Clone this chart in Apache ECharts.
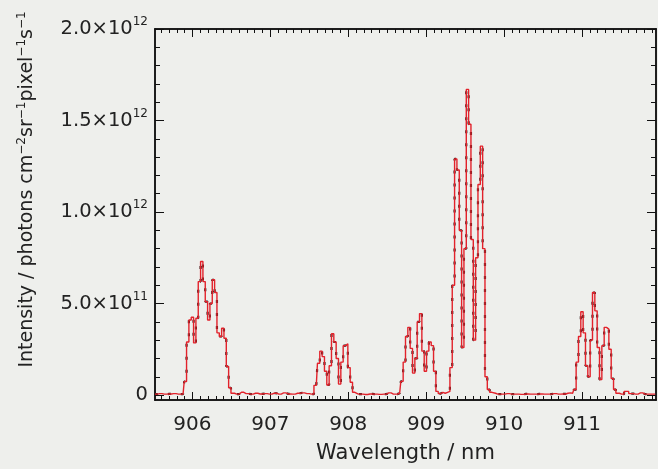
<!DOCTYPE html>
<html>
<head>
<meta charset="utf-8">
<script src="https://cdn.jsdelivr.net/npm/echarts@6/dist/echarts.min.js"></script>
<style>
  html, body { margin: 0; padding: 0; background: #eeefec; }
  #chart { width: 658px; height: 469px; }
</style>
</head>
<body>
<div id="chart"></div>
<script>
// wavelength (nm) and intensity (units of 1e11 photons cm^-2 sr^-1 pixel^-1 s^-1)
const wavelength = [
  905.52, 905.58, 905.64, 905.70, 905.76, 905.82,
  905.88, 905.91, 905.94, 905.97, 906.00, 906.03, 906.06, 906.09, 906.12, 906.15,
  906.18, 906.21, 906.24, 906.27, 906.30, 906.33, 906.36, 906.39, 906.42, 906.45,
  906.48, 906.51,
  906.57, 906.63, 906.69, 906.75, 906.81, 906.87, 906.93, 906.99, 907.05, 907.11,
  907.17, 907.23, 907.29, 907.35, 907.41, 907.47, 907.53,
  907.59, 907.62, 907.65, 907.68, 907.71, 907.74, 907.77, 907.80, 907.83, 907.86,
  907.89, 907.92, 907.95, 907.98, 908.01, 908.04, 908.07, 908.10,
  908.16, 908.22, 908.28, 908.34, 908.40, 908.46, 908.52, 908.58,
  908.63, 908.66, 908.69, 908.72, 908.75, 908.78, 908.81, 908.84, 908.87, 908.90,
  908.93, 908.96, 908.99, 909.02, 909.05, 909.08, 909.11, 909.14, 909.17,
  909.20, 909.23, 909.26, 909.29,
  909.32, 909.35, 909.38, 909.41, 909.44, 909.47, 909.50, 909.53, 909.56, 909.59,
  909.62, 909.65, 909.68, 909.71, 909.74, 909.77, 909.80, 909.83, 909.86,
  909.92, 909.98, 910.04, 910.10, 910.16, 910.22, 910.28, 910.34, 910.40, 910.46,
  910.52, 910.58, 910.64, 910.70, 910.76, 910.82, 910.85,
  910.88, 910.91, 910.94, 910.97, 911.00, 911.03, 911.06, 911.09, 911.12, 911.15,
  911.18, 911.21, 911.24, 911.27, 911.30, 911.33, 911.36, 911.39, 911.42, 911.45,
  911.51, 911.57, 911.63, 911.69, 911.75, 911.81, 911.87, 911.94
]
const intensity = [
  0.05, 0.08, 0.05, 0.06, 0.08, 0.05,
  0.05, 0.74, 2.9, 4.1, 4.25, 2.85, 4.2, 6.2, 7.3, 6.2,
  5.1, 4.1, 5.0, 6.3, 5.6, 3.4, 3.2, 3.65, 3.1, 1.56,
  0.4, 0.1,
  0.05, 0.15, 0.08, 0.05, 0.1, 0.06, 0.08, 0.05, 0.1, 0.05,
  0.12, 0.06, 0.05, 0.1, 0.12, 0.08, 0.05,
  0.53, 1.74, 2.4, 2.1, 1.3, 0.55, 1.6, 3.35, 2.9, 2.0,
  0.6, 1.8, 2.7, 2.8, 1.5, 0.7, 0.15, 0.05,
  0.05, 0.03, 0.06, 0.05, 0.04, 0.05, 0.12, 0.05,
  0.05, 0.1, 0.75, 1.8, 3.2, 3.7, 2.55, 1.2, 2.0, 4.0,
  4.45, 2.4, 1.3, 2.4, 2.9, 2.7, 1.3, 0.2, 0.08,
  0.15, 0.1, 0.15, 0.2,
  1.5, 6.0, 12.9, 12.3, 9.0, 2.6, 8.0, 16.7, 14.8, 8.5,
  3.0, 7.5, 11.5, 13.6, 8.0, 1.0, 0.3, 0.15, 0.1,
  0.05, 0.05, 0.08, 0.05, 0.05, 0.04, 0.06, 0.05, 0.05, 0.06,
  0.05, 0.05, 0.08, 0.05, 0.06, 0.1, 0.12,
  0.1, 0.3, 1.8, 3.2, 4.55, 3.4, 1.6, 1.0, 3.0, 5.6,
  4.6, 2.6, 0.85, 2.7, 3.7, 3.6, 2.5, 0.9, 0.3, 0.1,
  0.05, 0.2, 0.08, 0.05, 0.12, 0.05, 0.05, 0.05
]
const xMajor = [906, 907, 908, 909, 910, 911]
const xLabels = ['906', '907', '908', '909', '910', '911']
const yMajor = [0, 5e11, 1e12, 1.5e12, 2e12]
const yLabels = { 0: '{n|0}', 5e11: '{n|5.0×10}{s|11}', 1e12: '{n|1.0×10}{s|12}', 1.5e12: '{n|1.5×10}{s|12}', 2e12: '{n|2.0×10}{s|12}' }

const X_MIN = 905.52
const X_MAX = 911.95
const Y_MIN = -2.7e10
const Y_MAX = 2e12

const xMinor = []
for (let i = 9056; i <= 9119; i++) xMinor.push(i / 10)
const yMinor = []
for (let i = 0; i <= 20; i++) yMinor.push(i * 1e11)

const points = wavelength.map((w, i) => [w, intensity[i] * 1e11])

const font = 'DejaVu Sans'
const tickStyle = { color: '#111', width: 1 }

function xAxis(pos, ticks, len, extra) {
  return Object.assign({
    type: 'value', position: pos, min: X_MIN, max: X_MAX,
    axisLine: { show: true, onZero: false, lineStyle: { color: '#111', width: 1.5 } },
    axisTick: { show: true, inside: true, length: len, customValues: ticks, lineStyle: tickStyle },
    axisLabel: { show: false },
    splitLine: { show: false }
  }, extra || {})
}
function yAxis(pos, ticks, len, extra) {
  return Object.assign({
    type: 'value', position: pos, min: Y_MIN, max: Y_MAX,
    axisLine: { show: true, onZero: false, lineStyle: { color: '#111', width: 1.5 } },
    axisTick: { show: true, inside: true, length: len, customValues: ticks, lineStyle: tickStyle },
    axisLabel: { show: false },
    splitLine: { show: false }
  }, extra || {})
}

const chart = echarts.init(document.getElementById('chart'))
chart.setOption({
  backgroundColor: '#eeefec',
  animation: false,
  grid: { left: 155, right: 2, top: 29, bottom: 67 },
  xAxis: [
    xAxis('bottom', xMajor, 8, {
      axisLabel: {
        show: true, customValues: xMajor, margin: 15,
        formatter: v => xLabels[xMajor.indexOf(Math.round(v))],
        fontFamily: font, fontSize: 20, color: '#222'
      },
      name: 'Wavelength / nm', nameLocation: 'middle', nameGap: 43,
      nameTextStyle: { fontFamily: font, fontSize: 21, color: '#222' }
    }),
    xAxis('bottom', xMinor, 4),
    xAxis('top', xMajor, 8),
    xAxis('top', xMinor, 4)
  ],
  yAxis: [
    yAxis('left', yMajor, 9, {
      axisLabel: {
        show: true, customValues: yMajor, margin: 7,
        formatter: v => yLabels[v],
        rich: {
          n: { fontFamily: font, fontSize: 19.5, color: '#222' },
          s: { fontFamily: font, fontSize: 12, color: '#222', verticalAlign: 'top', padding: [0, 0, 14, 0] }
        }
      },
      name: '{n|Intensity / photons cm}{s|−2}{n|sr}{s|−1}{n|pixel}{s|−1}{n|s}{s|−1}',
      nameLocation: 'middle', nameGap: 116, nameRotate: 90,
      nameTextStyle: {
        padding: [0, 0, 0, 50],
        rich: {
          n: { fontFamily: font, fontSize: 19, color: '#222' },
          s: { fontFamily: font, fontSize: 12, color: '#222', padding: [0, 0, 11, 0] }
        }
      }
    }),
    yAxis('left', yMinor, 5),
    yAxis('right', yMajor, 9),
    yAxis('right', yMinor, 5)
  ],
  series: [{
    name: 'model',
    type: 'line',
    step: 'middle',
    data: points,
    showSymbol: false,
    lineStyle: { color: '#2a1616', width: 2.2, type: [3, 10] },
    z: 2
  }, {
    name: 'observed',
    type: 'line',
    step: 'middle',
    data: points,
    showSymbol: false,
    lineStyle: { color: '#e2222b', width: 1.4 },
    z: 3
  }]
})
</script>
</body>
</html>
